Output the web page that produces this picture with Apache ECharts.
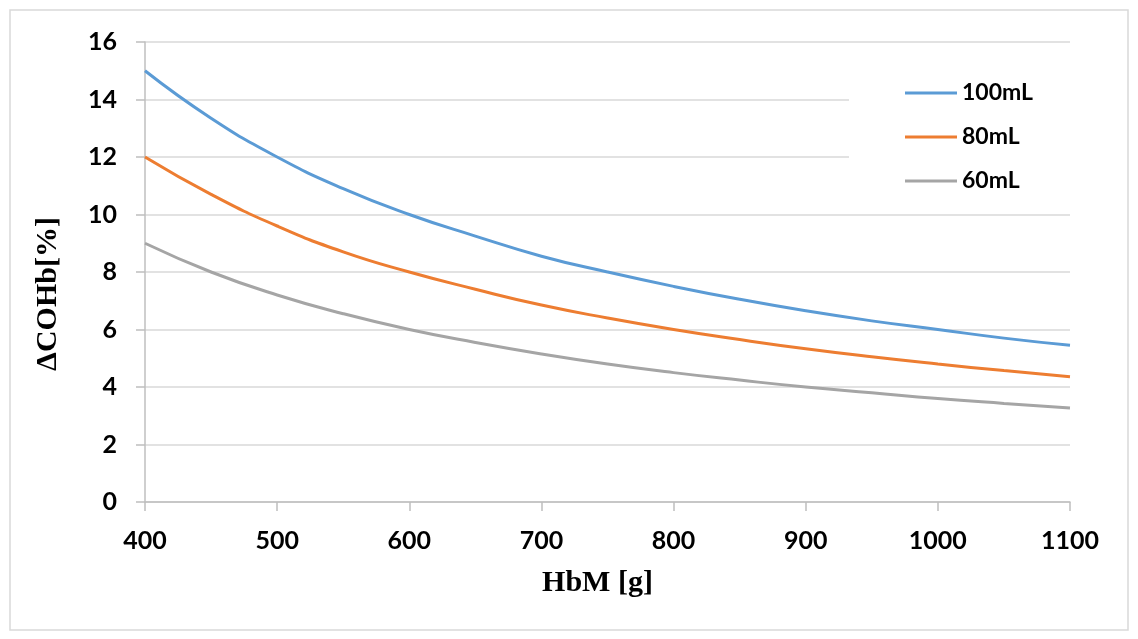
<!DOCTYPE html>
<html>
<head>
<meta charset="utf-8">
<script src="https://cdn.jsdelivr.net/npm/echarts@6/dist/echarts.min.js"></script>
<style>
html,body{margin:0;padding:0;background:#fff;}
#c{width:1138px;height:639px;}
</style>
</head>
<body>
<div id="c"></div>
<script>
const hbm = [400,450,500,550,600,650,700,750,800,850,900,950,1000,1050,1100];
const v100 = [15.0,13.35,12.0,10.9,10.0,9.25,8.55,8.0,7.5,7.05,6.65,6.3,6.0,5.7,5.45];
const v80  = [12.0,10.7,9.6,8.7,8.0,7.4,6.85,6.4,6.0,5.65,5.33,5.05,4.8,4.57,4.36];
const v60  = [9.0,8.0,7.2,6.55,6.0,5.55,5.15,4.8,4.5,4.24,4.0,3.8,3.6,3.43,3.27];
const seriesNames = ['100mL','80mL','60mL'];
const colors = ['#5b9bd5','#ed7d31','#a5a5a5'];

const pairs = arr => hbm.map((x,i)=>[x,arr[i]]);
const chart = echarts.init(document.getElementById('c'));
const tickFont = {fontFamily:'Lato', fontWeight:'bold', fontSize:25, color:'#000'};
chart.setOption({
  animation:false,
  backgroundColor:'#fff',
  graphic:[{type:'rect', shape:{x:10,y:10,width:1118,height:620}, style:{fill:'none', stroke:'#d9d9d9', lineWidth:1.5}, z:-1}],
  grid:{left:145,right:68,top:42,bottom:137},
  legend:{
    orient:'vertical', left:849, top:60,
    padding:[20,60,12,56],
    backgroundColor:'#fff',
    icon:'rect', itemWidth:52, itemHeight:3, itemGap:18,
    textStyle:{fontFamily:'Lato', fontWeight:'bold', fontSize:23, lineHeight:26, color:'#000'},
    data:seriesNames
  },
  xAxis:{
    type:'value', min:400, max:1100, interval:100,
    name:'HbM [g]', nameLocation:'middle', nameGap:66,
    nameTextStyle:{fontFamily:'Liberation Serif', fontWeight:'bold', fontSize:30, color:'#000', padding:[0,20,0,0]},
    axisLine:{show:true, lineStyle:{color:'#bfbfbf', width:1.5}},
    axisTick:{show:true, length:9, lineStyle:{color:'#bfbfbf', width:1.5}},
    axisLabel:{...tickFont, margin:26, formatter:v=>String(v)},
    splitLine:{show:false}
  },
  yAxis:{
    type:'value', min:0, max:16, interval:2,
    name:'ΔCOHb[%]', nameLocation:'middle', nameGap:82, nameRotate:90,
    nameTextStyle:{fontFamily:'Liberation Serif', fontWeight:'bold', fontSize:30, color:'#000', padding:[0,44,0,0]},
    axisLine:{show:true, lineStyle:{color:'#bfbfbf', width:1.5}},
    axisTick:{show:true, length:9, lineStyle:{color:'#bfbfbf', width:1.5}},
    axisLabel:{...tickFont, margin:28, formatter:v=>String(v)},
    splitLine:{show:true, lineStyle:{color:'#d9d9d9', width:1.5}}
  },
  series:[v100,v80,v60].map((arr,i)=>({
    name:seriesNames[i], type:'line', data:pairs(arr), smooth:true,
    showSymbol:false, symbol:'none',
    lineStyle:{color:colors[i], width:3},
    itemStyle:{color:colors[i]}
  }))
});
</script>
</body>
</html>
